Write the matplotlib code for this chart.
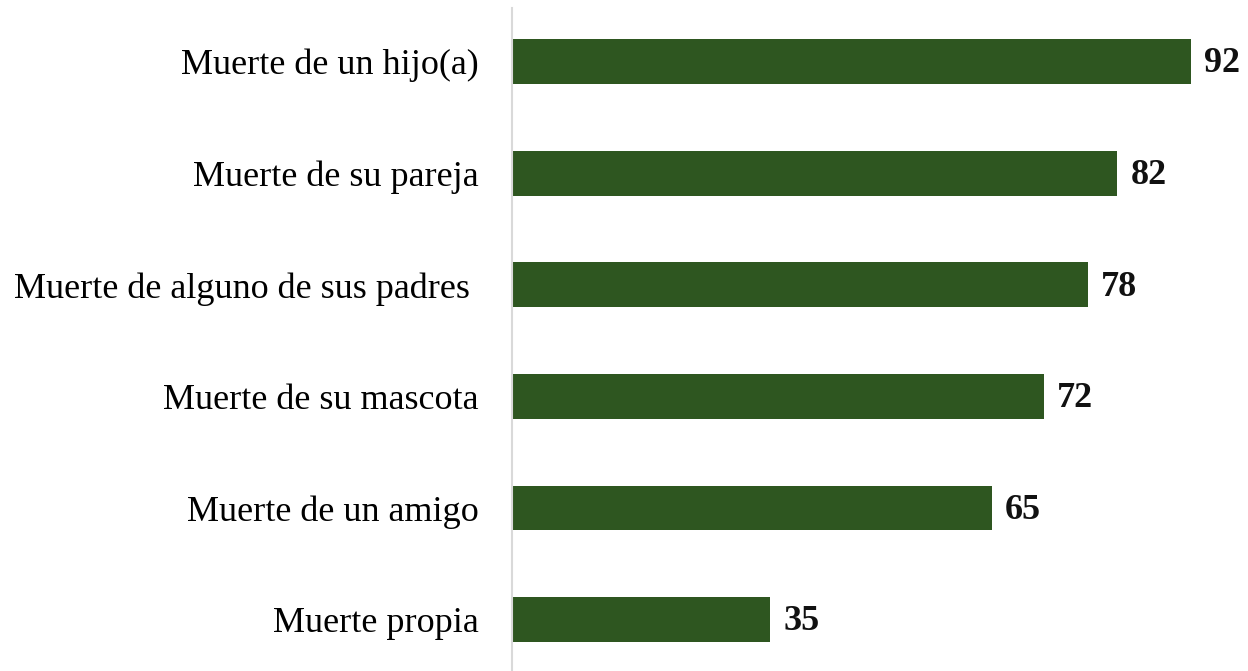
import matplotlib
matplotlib.use("Agg")
import matplotlib.pyplot as plt

categories = ["Muerte de un hijo(a)", "Muerte de su pareja", "Muerte de alguno de sus padres ",
              "Muerte de su mascota", "Muerte de un amigo", "Muerte propia"]
values = [92, 82, 78, 72, 65, 35]

plt.rcParams['font.family'] = ['Liberation Serif', 'DejaVu Serif']

fig = plt.figure(figsize=(12.48, 6.71), dpi=100)
ax = fig.add_axes([512/1248, 0, (1248-512)/1248, 663/671])

pos = list(range(len(categories)))
ax.barh(pos, values, height=0.4, color="#2E5620")
for p, v in zip(pos, values):
    ax.text(v + 1.8, p + 0.02, str(v), va="center", ha="left", fontsize=26, fontweight="bold", color="#111111")

ax.set_xlim(0, 99.7)
ax.set_ylim(5.46, -0.48)
ax.set_yticks(pos)
ax.set_yticklabels(categories, fontsize=26)
ax.tick_params(axis='y', length=0, pad=24)
ax.set_xticks([])
for s in ["top", "right", "bottom"]:
    ax.spines[s].set_visible(False)
ax.spines["left"].set_color("#D9D9D9")
ax.spines["left"].set_linewidth(1.5)

fig.savefig("out.png", dpi=100)
